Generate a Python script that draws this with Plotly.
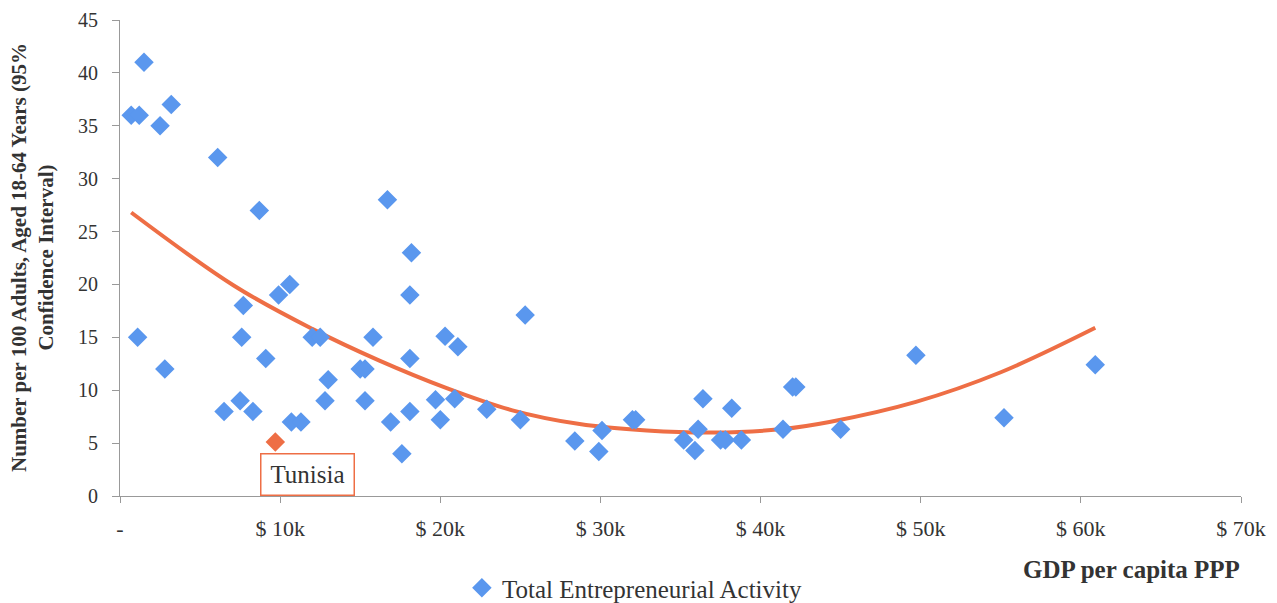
import plotly.graph_objects as go

# GDP per capita PPP (thousand $) and TEA rate
gdp = [0.7, 1.2, 1.5, 2.5, 3.2, 1.1, 2.8, 6.1, 8.7, 7.7, 7.6, 6.5, 7.5, 8.3, 9.1, 9.9, 10.6,
       10.7, 11.3, 12.0, 12.5, 13.0, 12.8, 15.0, 15.3, 15.3, 15.8, 16.7, 16.9, 17.6,
       18.1, 18.1, 18.1, 18.2, 19.7, 20.0, 20.3, 20.9, 21.1, 22.9, 25.0, 25.3,
       28.4, 29.9, 30.1, 32.0, 32.2, 35.2, 35.9, 36.1, 36.4, 37.5, 37.8, 38.2, 38.8,
       41.4, 42.0, 42.2, 45.0, 49.7, 55.2, 60.9]
tea = [36, 36, 41, 35, 37, 15, 12, 32, 27, 18, 15, 8, 9, 8, 13, 19, 20,
       7, 7, 15, 15, 11, 9, 12, 12, 9, 15, 28, 7, 4,
       8, 13, 19, 23, 9.1, 7.2, 15.1, 9.2, 14.1, 8.2, 7.2, 17.1,
       5.2, 4.2, 6.2, 7.2, 7.2, 5.3, 4.3, 6.3, 9.2, 5.3, 5.3, 8.3, 5.3,
       6.3, 10.3, 10.3, 6.3, 13.3, 7.4, 12.4]

tunisia_gdp = [9.7]
tunisia_tea = [5.1]

# trend curve
trend_x = [0.7, 7.1, 12.0, 16.2, 20.4, 24.5, 28.7, 32.9, 37.0, 41.2, 44.3, 49.7, 55.0, 60.9]
trend_y = [26.8, 19.9, 15.8, 12.8, 10.2, 8.1, 6.8, 6.2, 6.0, 6.3, 7.0, 8.9, 11.7, 15.9]

x_tickvals = [0, 10, 20, 30, 40, 50, 60, 70]
x_ticktext = ["-", "$ 10k", "$ 20k", "$ 30k", "$ 40k", "$ 50k", "$ 60k", "$ 70k"]
y_tickvals = [0, 5, 10, 15, 20, 25, 30, 35, 40, 45]

BLUE = "#5A97EE"
ORANGE = "#EE6E45"
TEXT = "#333333"
FONT = "Liberation Serif"

fig = go.Figure()
fig.add_trace(go.Scatter(
    x=trend_x, y=trend_y, mode="lines", line=dict(color=ORANGE, width=4, shape="spline"),
    showlegend=False, hoverinfo="skip"))
fig.add_trace(go.Scatter(
    x=gdp, y=tea, mode="markers", name="Total Entrepreneurial Activity",
    marker=dict(symbol="diamond", size=15, color=BLUE)))
fig.add_trace(go.Scatter(
    x=tunisia_gdp, y=tunisia_tea, mode="markers", showlegend=False,
    marker=dict(symbol="diamond", size=15, color=ORANGE)))

fig.add_annotation(x=11.7, y=2.05, xref="x", yref="y", text="Tunisia", showarrow=False,
                   font=dict(family=FONT, size=25, color=TEXT),
                   width=86, height=34, borderpad=3,
                   bordercolor=ORANGE, borderwidth=1.5, bgcolor="white")

fig.add_annotation(x=-0.0785, y=0.5, xref="paper", yref="paper",
                   text="<b>Number per 100 Adults, Aged 18-64 Years (95%<br>Confidence Interval)</b>",
                   textangle=-90, showarrow=False, xanchor="center", yanchor="middle",
                   font=dict(family=FONT, size=21, color=TEXT))
fig.add_annotation(x=0.902, y=-0.155, xref="paper", yref="paper", text="<b>GDP per capita PPP</b>",
                   showarrow=False, xanchor="center", yanchor="middle",
                   font=dict(family=FONT, size=25, color=TEXT))

fig.update_layout(
    width=1277, height=603, plot_bgcolor="white", paper_bgcolor="white",
    margin=dict(l=112, r=44, t=12, b=115, autoexpand=False),
    font=dict(family=FONT, size=22, color=TEXT),
    legend=dict(orientation="h", x=0.305, y=-0.145, xanchor="left", yanchor="top",
                font=dict(family=FONT, size=25, color=TEXT), itemwidth=30),
    xaxis=dict(range=[0, 70], tickvals=x_tickvals, ticktext=x_ticktext, showgrid=False,
               zeroline=False, showline=True, linecolor="#999", linewidth=1,
               ticks="outside", ticklen=6, tickcolor="#999", ticklabelstandoff=7,
               ticklabeloverflow="allow",
               tickfont=dict(family=FONT, size=22, color=TEXT)),
    yaxis=dict(range=[0, 45], tickvals=y_tickvals, showgrid=False, zeroline=False,
               showline=True, linecolor="#999", linewidth=1, ticks="outside", ticklen=7,
               tickcolor="#999", ticklabelstandoff=10, ticklabeloverflow="allow",
               tickfont=dict(family=FONT, size=20, color=TEXT)),
)

fig.write_html("out.html")
